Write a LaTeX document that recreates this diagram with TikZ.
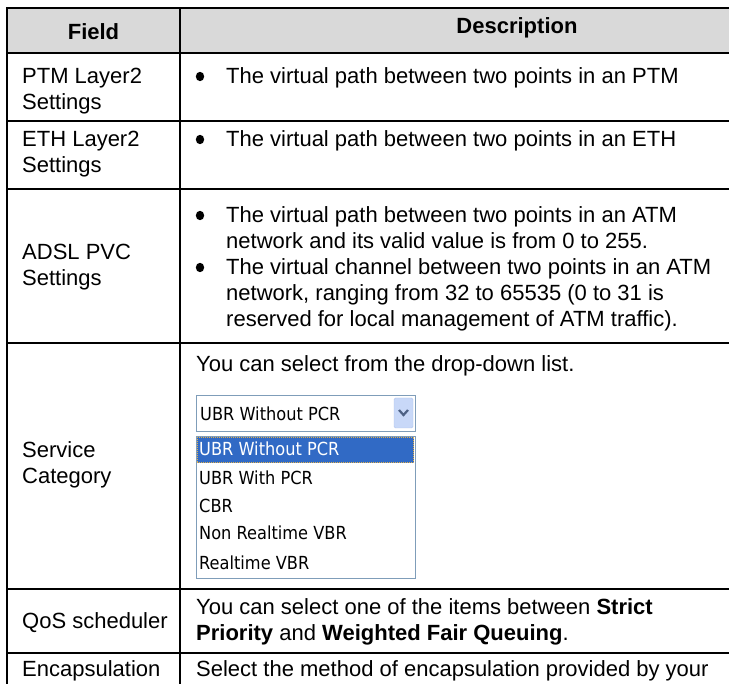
\documentclass[tikz,border=0pt]{standalone}
\usepackage{fontspec}
\setmainfont{Liberation Sans}
\newfontfamily\uifont{DejaVu Sans}[FakeStretch=0.9]
\definecolor{hdrgray}{HTML}{D9D9D9}
\definecolor{ddborder}{HTML}{7F9DB9}
\definecolor{selblue}{HTML}{316AC5}
\definecolor{focusdot}{HTML}{E0B050}
\definecolor{btnfill}{HTML}{C8D8F8}
\definecolor{btnedge}{HTML}{B0C4EC}
\definecolor{chev}{HTML}{4D6185}
\newcommand\bodysize{\fontsize{22}{26}\selectfont}
\newcommand\uisize{\uifont\fontsize{18}{22}\selectfont}
\usetikzlibrary{shapes.geometric}
\tikzset{
  grid/.style={line width=1.8pt, black},
  txt/.style={anchor=base west, inner sep=0pt, font=\bodysize},
  hdr/.style={anchor=base, inner sep=0pt, font=\bodysize\bfseries},
  bul/.style={ellipse, fill=black, inner sep=0pt, minimum width=8.4pt, minimum height=9.4pt},
  item/.style={anchor=base west, inner sep=0pt, font=\uisize},
}
\begin{document}
\begin{tikzpicture}[x=1pt, y=-1pt]
\useasboundingbox (0,0) rectangle (729,684);
\clip (0,0) rectangle (729,684);

% header band
\fill[hdrgray] (7,8) rectangle (760,53);

% table rules
\draw[grid] (760,8) -- (7,8) -- (7,700);
\draw[grid] (180,8) -- (180,700);
\foreach \y in {53,121,189,343,589,653} \draw[grid] (7,\y) -- (760,\y);

% header
\node[hdr] (hfield) at (93.5,40) {Field};
\node[hdr] (hdesc) at (517,34) {Description};

% PTM row
\node[txt] (f1a) at (22,84) {PTM Layer2};
\node[txt] (f1b) at (22,110) {Settings};
\node[bul] (b1) at (200,76.5) {};
\node[txt] (d1) at (226,84) {The virtual path between two points in an PTM};

% ETH row
\node[txt] (f2a) at (22,147) {ETH Layer2};
\node[txt] (f2b) at (22,173) {Settings};
\node[bul] (b2) at (200,139.5) {};
\node[txt] (d2) at (226,147) {The virtual path between two points in an ETH};

% ADSL row
\node[txt] (f3a) at (22,260) {ADSL PVC};
\node[txt] (f3b) at (22,286) {Settings};
\node[bul] (b3) at (200,215.5) {};
\node[txt] (d3a) at (226,223) {The virtual path between two points in an ATM};
\node[txt] (d3b) at (226,249) {network and its valid value is from 0 to 255.};
\node[bul] (b4) at (200,267.5) {};
\node[txt] (d3c) at (226,275) {The virtual channel between two points in an ATM};
\node[txt] (d3d) at (226,301) {network, ranging from 32 to 65535 (0 to 31 is};
\node[txt] (d3e) at (226,327) {reserved for local management of ATM traffic).};

% Service category row
\node[txt] (f4a) at (22,458) {Service};
\node[txt] (f4b) at (22,484) {Category};
\node[txt] (d4) at (196,372) {You can select from the drop-down list.};

% collapsed drop-down
\draw[ddborder, fill=white] (196,395) rectangle (415,431);
\node[item] (cur) at (200,421) {UBR Without PCR};
\draw[btnedge, fill=btnfill, rounded corners=1.5pt] (394,398) rectangle (413,428);
\draw[chev, line width=2.2pt] (399,410) -- (403.5,415) -- (408,410);

% opened list
\draw[ddborder, fill=white] (196,436) rectangle (415,578);
\fill[selblue] (197,437) rectangle (414,463);
\draw[focusdot, densely dotted, line width=1pt] (197.5,437.5) rectangle (413.5,462.5);
\node[item, text=white] (o1) at (199,456) {UBR Without PCR};
\node[item] (o2) at (199,485) {UBR With PCR};
\node[item] (o3) at (199,513) {CBR};
\node[item] (o4) at (199,540) {Non Realtime VBR};
\node[item] (o5) at (199,569) {Realtime VBR};

% QoS row
\node[txt] (f5) at (22,629) {QoS scheduler};
\node[txt] (d5a) at (196,615) {You can select one of the items between \textbf{Strict}};
\node[txt] (d5b) at (196,641) {\textbf{Priority} and \textbf{Weighted Fair Queuing}.};

% Encapsulation row
\node[txt] (f6) at (22,677) {Encapsulation};
\node[txt] (d6) at (196,677) {Select the method of encapsulation provided by your};
\end{tikzpicture}
\end{document}
